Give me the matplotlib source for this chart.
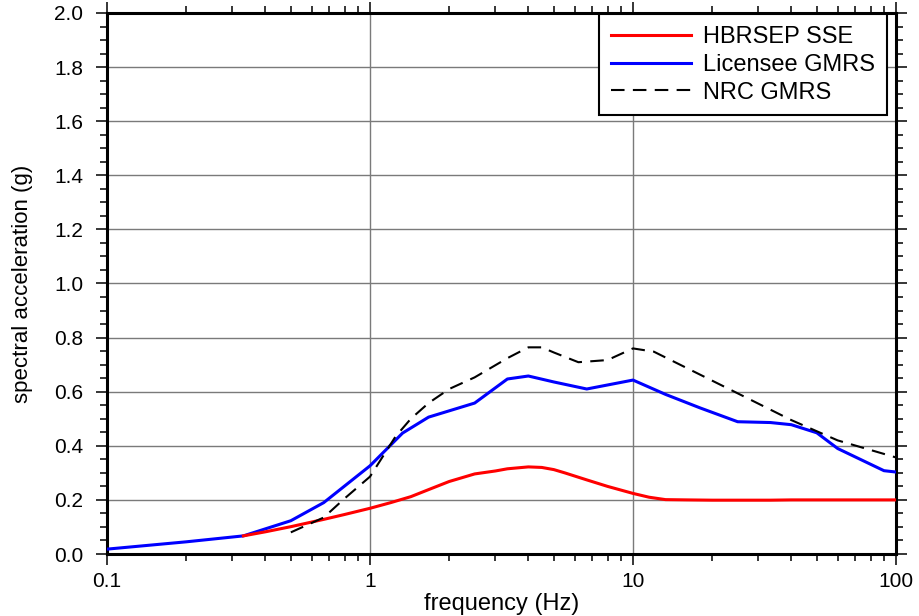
import numpy as np
import matplotlib.pyplot as plt
from matplotlib.ticker import FixedLocator, MultipleLocator, NullFormatter

plt.rcParams['font.family'] = ['Liberation Sans', 'DejaVu Sans']

# HBRSEP SSE
sse_f = [0.33, 0.4, 0.5, 0.667, 0.8, 1.0, 1.2, 1.43, 1.67, 2.0, 2.5, 3.0, 3.33, 4.0,
         4.5, 5.0, 5.5, 6.67, 8.0, 10.0, 11.5, 13.3, 16.0, 20.0, 25.0, 33.3, 40.0, 50.0, 67.0, 100.0]
sse_a = [0.067, 0.082, 0.101, 0.128, 0.146, 0.169, 0.19, 0.212, 0.238, 0.268, 0.296, 0.307, 0.315, 0.322,
         0.32, 0.312, 0.3, 0.274, 0.25, 0.224, 0.21, 0.201, 0.2, 0.199, 0.199, 0.199, 0.2, 0.2, 0.2, 0.2]

# Licensee GMRS
lic_f = [0.1, 0.2, 0.33, 0.5, 0.667, 1.0, 1.33, 1.67, 2.5, 3.33, 4.0, 5.0, 6.67, 10.0,
         13.3, 18.0, 25.0, 33.3, 40.0, 50.0, 60.0, 90.0, 100.0]
lic_a = [0.018, 0.045, 0.067, 0.123, 0.19, 0.326, 0.447, 0.506, 0.558, 0.647, 0.658, 0.636, 0.61, 0.643,
         0.59, 0.54, 0.489, 0.486, 0.478, 0.448, 0.39, 0.308, 0.303]

# NRC GMRS
nrc_f = [0.5, 0.667, 0.8, 1.0, 1.25, 1.43, 1.67, 2.0, 2.5, 3.33, 4.0, 4.5, 5.0, 6.2,
         8.0, 10.0, 12.0, 25.0, 40.0, 60.0, 100.0]
nrc_a = [0.08, 0.135, 0.205, 0.286, 0.434, 0.5, 0.558, 0.61, 0.653, 0.724, 0.764, 0.764, 0.745, 0.709,
         0.717, 0.76, 0.748, 0.594, 0.495, 0.42, 0.357]

x_ticks = [0.1, 1, 10, 100]
x_tick_labels = ['0.1', '1', '10', '100']

fig = plt.figure(figsize=(9.2, 6.16), dpi=100)
ax = fig.add_axes([107 / 920, 62 / 616, 789 / 920, 541 / 616])

ax.plot(sse_f, sse_a, color='#ff0000', lw=2.2, label='HBRSEP SSE', zorder=4)
ax.plot(lic_f, lic_a, color='#0000ff', lw=2.2, label='Licensee GMRS', zorder=3)
ax.plot(nrc_f, nrc_a, color='black', lw=1.5, dashes=(6.5, 4), label='NRC GMRS', zorder=5)

ax.set_xscale('log')
ax.set_xlim(0.1, 100)
ax.set_ylim(0, 2.0)

ax.xaxis.set_major_locator(FixedLocator(x_ticks))
ax.set_xticklabels(x_tick_labels)
ax.xaxis.set_minor_locator(FixedLocator([m * 10.0 ** e for e in range(-1, 2) for m in range(2, 10)]))
ax.xaxis.set_minor_formatter(NullFormatter())
ax.yaxis.set_major_locator(MultipleLocator(0.2))
ax.yaxis.set_minor_locator(MultipleLocator(0.05))
ax.yaxis.set_major_formatter(plt.FuncFormatter(lambda v, p: '%.1f' % v))

ax.grid(True, which='major', color='#7a7a7a', lw=1.0)
ax.set_axisbelow(True)

for s in ax.spines.values():
    s.set_linewidth(2.2)

ax.tick_params(which='both', direction='out', top=True, right=True, width=1.1, labelsize=15)
ax.tick_params(axis='y', which='major', length=8, pad=9)
ax.tick_params(axis='x', which='major', length=8, pad=5)
ax.tick_params(which='minor', length=5)

ax.set_xlabel('frequency (Hz)', fontsize=17)
ax.xaxis.set_label_coords(0.5, -0.072)
ax.set_ylabel('spectral acceleration (g)', fontsize=16)
ax.yaxis.set_label_coords(-0.094, 0.5)

leg = ax.legend(loc='upper right', bbox_to_anchor=(0.9886, 0.998), fontsize=17,
                handlelength=3.4, handletextpad=0.5, labelspacing=0.25, borderaxespad=0,
                borderpad=0.5, fancybox=False, framealpha=1, edgecolor='black')
leg.get_frame().set_linewidth(1.5)

fig.savefig('out.png', dpi=100)
